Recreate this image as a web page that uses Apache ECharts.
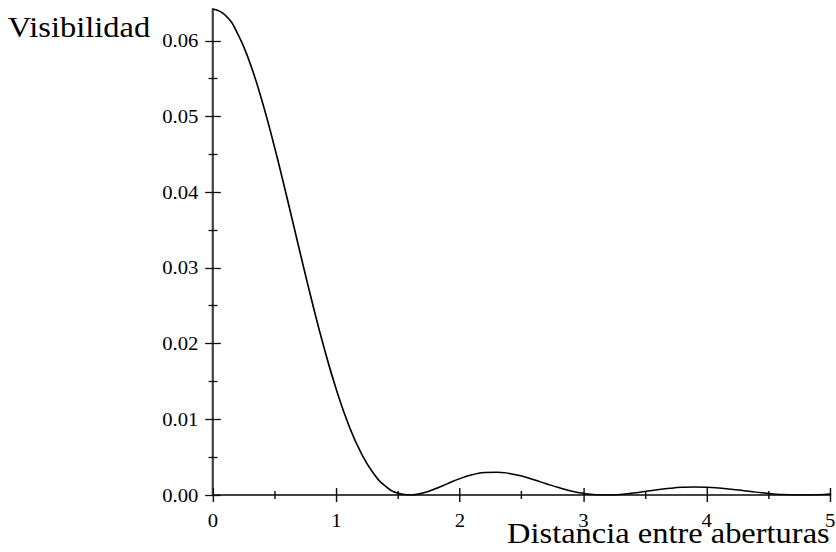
<!DOCTYPE html>
<html>
<head>
<meta charset="utf-8">
<script src="https://cdn.jsdelivr.net/npm/echarts@6/dist/echarts.min.js"></script>
<style>
  html, body { margin: 0; padding: 0; background: #fff; overflow: hidden; }
  /* The plot's lettering is a horizontally widened serif, so the whole chart
     is laid out at a narrower width and stretched sideways to fill the page. */
  #chart { width: 746.43px; height: 552px; transform: scaleX(1.12); transform-origin: 0 0; }
</style>
</head>
<body>
<div id="chart"></div>
<script>
// Visibility of the fringe pattern against the separation of the two apertures.
const distance = [
  0.0, 0.1, 0.2, 0.3, 0.4, 0.5, 0.6, 0.7, 0.8, 0.9,
  1.0, 1.1, 1.2, 1.3, 1.4, 1.5, 1.6, 1.7, 1.8, 1.9,
  2.0, 2.1, 2.2, 2.3, 2.4, 2.5, 2.6, 2.7, 2.8, 2.9,
  3.0, 3.1, 3.2, 3.3, 3.4, 3.5, 3.6, 3.7, 3.8, 3.9,
  4.0, 4.1, 4.2, 4.3, 4.4, 4.5, 4.6, 4.7, 4.8, 4.9,
  5.0
];
const visibility = [
  0.06420, 0.06337, 0.06093, 0.05702, 0.05190, 0.04585, 0.03923, 0.03239, 0.02569, 0.01944,
  0.01389, 0.00922, 0.00554, 0.00286, 0.00113, 0.00023, 0.00000, 0.00026, 0.00082, 0.00151,
  0.00216, 0.00267, 0.00296, 0.00302, 0.00285, 0.00250, 0.00202, 0.00149, 0.00098, 0.00054,
  0.00022, 0.00004, 0.00000, 0.00008, 0.00025, 0.00047, 0.00069, 0.00088, 0.00101, 0.00106,
  0.00103, 0.00092, 0.00076, 0.00057, 0.00038, 0.00021, 0.00008, 0.00001, 0.00000, 0.00004,
  0.00013
];

const xTicks = [0, 1, 2, 3, 4, 5];
const xTickLabels = ['0', '1', '2', '3', '4', '5'];
const xMinorTicks = [0.5, 1.5, 2.5, 3.5, 4.5];
const yTicks = [0, 0.01, 0.02, 0.03, 0.04, 0.05, 0.06];
const yTickLabels = ['0.00', '0.01', '0.02', '0.03', '0.04', '0.05', '0.06'];
const yMinorTicks = [0.005, 0.015, 0.025, 0.035, 0.045, 0.055];
const xRange = [0, 5];
const yRange = [0, 0.0642];
const xTitle = 'Distancia entre aberturas';
const yTitle = 'Visibilidad';

const FONT = '"Liberation Serif", "Times New Roman", Times, serif';

function labelFor(ticks, labels) {
  return function (v) {
    let best = 0;
    for (let i = 1; i < ticks.length; i++) {
      if (Math.abs(ticks[i] - v) < Math.abs(ticks[best] - v)) best = i;
    }
    return labels[best];
  };
}

// One axis layer: the plot draws ticks that cross the axis line, so each
// tick set is drawn twice, once outward and once inward.
function axisLayer(dim, tickValues, tickLen, inside, main) {
  const isX = dim === 'x';
  const ax = {
    type: 'value',
    gridIndex: 0,
    position: isX ? 'bottom' : 'left',
    min: (isX ? xRange : yRange)[0],
    max: (isX ? xRange : yRange)[1],
    splitLine: { show: false },
    axisLine: {
      show: main,
      onZero: false,
      lineStyle: { color: '#444', width: 2 }
    },
    axisTick: {
      show: true,
      inside: inside,
      length: tickLen,
      customValues: tickValues,
      lineStyle: { color: '#111', width: 1.3 }
    },
    minorTick: { show: false },
    axisLabel: { show: false }
  };
  if (main) {
    const ticks = isX ? xTicks : yTicks;
    const labels = isX ? xTickLabels : yTickLabels;
    ax.axisLabel = {
      show: true,
      customValues: ticks,
      formatter: labelFor(ticks, labels),
      fontFamily: FONT,
      fontSize: 18.5,
      color: '#000',
      margin: isX ? 15.5 : 13
    };
  }
  return ax;
}

const chart = echarts.init(document.getElementById('chart'), null, { renderer: 'svg' });

chart.setOption({
  animation: false,
  backgroundColor: '#fff',
  title: [
    {
      text: yTitle,
      left: 7, top: 13, padding: 0,
      textStyle: { fontFamily: FONT, fontSize: 29, fontWeight: 'normal', color: '#000' }
    },
    {
      text: xTitle,
      right: 5, top: 519, padding: 0,
      textStyle: { fontFamily: FONT, fontSize: 29, fontWeight: 'normal', color: '#000' }
    }
  ],
  grid: {
    left: 190.18, right: 4.73, top: 9, bottom: 57,
    containLabel: false,
    outerBoundsMode: 'none'
  },
  xAxis: [
    axisLayer('x', xTicks, 7, false, true),
    axisLayer('x', xTicks, 7, true, false),
    axisLayer('x', xMinorTicks, 4, false, false),
    axisLayer('x', xMinorTicks, 4, true, false)
  ],
  yAxis: [
    axisLayer('y', yTicks, 7, false, true),
    axisLayer('y', yTicks, 7, true, false),
    axisLayer('y', yMinorTicks, 4, false, false),
    axisLayer('y', yMinorTicks, 4, true, false)
  ],
  series: [{
    type: 'line',
    xAxisIndex: 0,
    yAxisIndex: 0,
    data: distance.map((d, i) => [d, visibility[i]]),
    smooth: true,
    showSymbol: false,
    symbol: 'none',
    lineStyle: { color: '#000', width: 1.5 },
    z: 3
  }]
});
</script>
</body>
</html>
